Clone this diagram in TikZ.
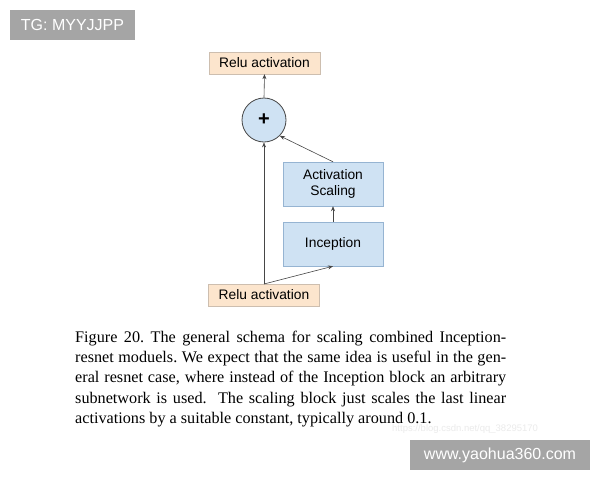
\documentclass[tikz,border=0pt]{standalone}
\usepackage{fontspec}
\setmainfont{Liberation Serif}
\setsansfont{Liberation Sans}
\usetikzlibrary{arrows.meta}
\definecolor{peach}{RGB}{252,229,205}
\definecolor{peachline}{RGB}{205,190,175}
\definecolor{lblue}{RGB}{207,226,243}
\definecolor{lblueline}{RGB}{150,180,210}
\definecolor{wmgray}{RGB}{165,165,165}
\definecolor{lineg}{RGB}{70,70,70}
\tikzset{
  relubox/.style={draw=peachline, fill=peach, minimum width=111pt, minimum height=22pt, inner sep=0pt, font=\sffamily\fontsize{13.8}{15}\selectfont},
  bluebox/.style={draw=lblueline, fill=lblue, minimum width=100pt, minimum height=44pt, inner sep=0pt, align=center, font=\sffamily\fontsize{13.8}{16}\selectfont},
  sumnode/.style={circle, draw=lineg, fill=lblue, minimum size=44pt, inner sep=0pt, line width=0.8pt},
  conn/.style={draw=lineg, line width=0.6pt, -{Stealth[length=5pt,width=4pt]}},
  wmbox/.style={fill=wmgray, text=white, inner sep=0pt, font=\sffamily\fontsize{16}{18}\selectfont}
}
\begin{document}
\begin{tikzpicture}[x=1pt,y=-1pt]
\useasboundingbox (0,0) rectangle (600,480);
\fill[white] (0,0) rectangle (600,480);
\node[wmbox, minimum width=125pt, minimum height=30pt] (tg) at (72.5,25) {TG: MYYJJPP};
\node[relubox] (top) at (264.5,63) {Relu activation};
\node[sumnode] (sum) at (264,120) {\sffamily\bfseries\fontsize{20}{20}\selectfont +};
\node[bluebox] (scale) at (333,184) {Activation\\Scaling};
\node[bluebox] (incep) at (333,244) {Inception};
\node[relubox] (bot) at (264,295) {Relu activation};
\coordinate (split) at (264,284);
\draw[conn] (split) -- (sum.south);
\draw[conn] (split) -- (incep.south);
\draw[conn] (incep.north) -- (scale.south);
\draw[conn] (scale.north) -- (sum.-45);
\draw[conn] (sum.north) -- (top.south);
\node[anchor=north west, inner sep=0pt, text width=431pt, align=justify,
      font=\fontsize{16.2}{20.3}\selectfont\frenchspacing] (cap) at (75,330.5)
{Figure 20. The general schema for scaling combined Inception-\linebreak
resnet moduels. We expect that the same idea is useful in the gen-\linebreak
eral resnet case, where instead of the Inception block an arbitrary\linebreak
subnetwork is used.\ \ The scaling block just scales the last linear\linebreak
activations by a suitable constant, typically around 0.1.};
\node[anchor=west, inner sep=0pt, text=black!8, font=\sffamily\fontsize{9.5}{10}\selectfont] (url) at (392,429) {https://blog.csdn.net/qq\_38295170};
\node[wmbox, minimum width=180pt, minimum height=30pt] (www) at (500,455) {www.yaohua360.com};
\end{tikzpicture}
\end{document}
